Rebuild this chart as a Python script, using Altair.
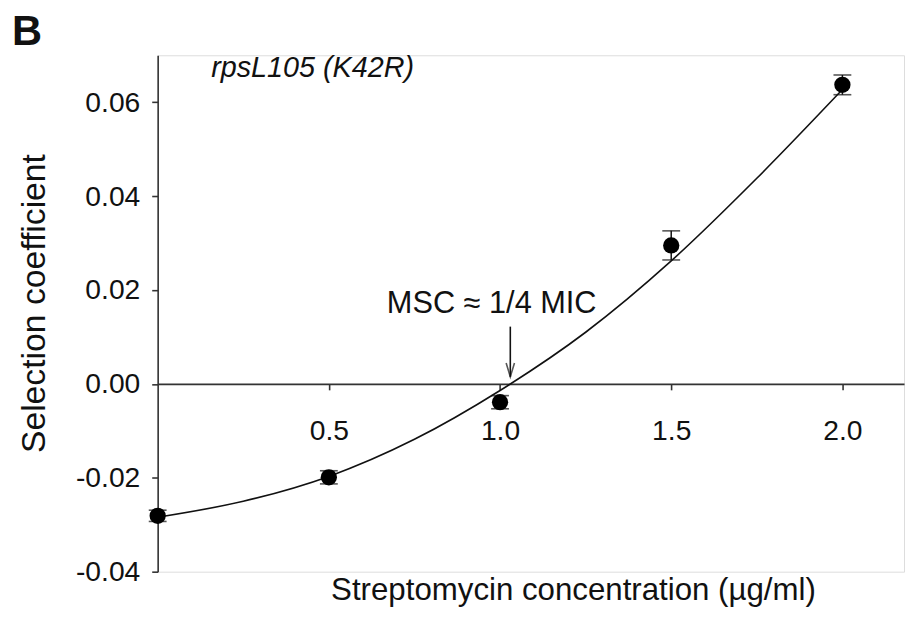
import altair as alt
import pandas as pd

# measured data
conc = [0.0, 0.5, 1.0, 1.5, 2.0]
sel = [-0.0281, -0.0199, -0.0039, 0.0295, 0.0637]
err = [0.0012, 0.0014, 0.0014, 0.0031, 0.0021]

# fitted curve
fit_x = [0.0, 0.25, 0.5, 0.75, 1.0, 1.25, 1.5, 1.75, 2.0]
fit_y = [-0.0284, -0.0250, -0.0197, -0.0118, -0.0014, 0.0110, 0.0262, 0.0438, 0.0627]

x_ticks = [0.5, 1.0, 1.5, 2.0]
y_ticks = [-0.04, -0.02, 0.0, 0.02, 0.04, 0.06]

msc_x = [1.03]
arrow_top = [0.0122]
arrow_tip = [0.0015]

FONT = "Liberation Sans"
INK = "#111111"

pts = pd.DataFrame({"x": conc, "y": sel, "e": err})
pts["lo"] = pts["y"] - pts["e"]
pts["hi"] = pts["y"] + pts["e"]
fit = pd.DataFrame({"x": fit_x, "y": fit_y})
arr = pd.DataFrame({"x": msc_x, "y1": arrow_top, "y2": arrow_tip})

xs = alt.Scale(domain=[0, 2.18], nice=False, zero=False)
ys = alt.Scale(domain=[-0.04, 0.07], nice=False, zero=False)

HEIGHT = 521
zero_from_top = 0.07 / 0.11 * HEIGHT

xaxis = alt.Axis(
    values=x_ticks, format=".1f", grid=False, offset=-(HEIGHT - zero_from_top),
    domainColor="#333333", domainWidth=1.6, tickColor="#333333", tickWidth=1.6, tickSize=6,
    labelFont=FONT, labelFontSize=28.5, labelColor=INK, labelPadding=27,
    title="Streptomycin concentration (µg/ml)", titleFont=FONT, titleFontSize=31.5,
    titleFontWeight="normal", titleColor=INK, titleX=419, titleY=218,
    titleBaseline="alphabetic", titleAlign="center",
)
yaxis = alt.Axis(
    values=y_ticks, grid=False,
    labelExpr="replace(format(datum.value, '.2f'), '\u2212', '-')",
    domainColor="#333333", domainWidth=1.6, tickColor="#333333", tickWidth=1.6, tickSize=6,
    labelFont=FONT, labelFontSize=28.5, labelColor=INK, labelPadding=12,
    title="Selection coefficient", titleFont=FONT, titleFontSize=34,
    titleFontWeight="normal", titleColor=INK, titleX=-114, titleY=250,
    titleBaseline="alphabetic", titleAlign="center", titleAngle=-90,
)

curve = alt.Chart(fit).mark_line(color="#111111", strokeWidth=1.6, interpolate="monotone").encode(
    x=alt.X("x:Q", scale=xs, axis=xaxis),
    y=alt.Y("y:Q", scale=ys, axis=yaxis),
)

bars = alt.Chart(pts).mark_rule(color="#111111", strokeWidth=1.5).encode(
    x=alt.X("x:Q", scale=xs), y=alt.Y("lo:Q", scale=ys), y2="hi:Q"
)
cap_lo = alt.Chart(pts).mark_point(shape="stroke", size=324, color="#111111", strokeWidth=1.6).encode(
    x=alt.X("x:Q", scale=xs), y=alt.Y("lo:Q", scale=ys)
)
cap_hi = alt.Chart(pts).mark_point(shape="stroke", size=324, color="#111111", strokeWidth=1.6).encode(
    x=alt.X("x:Q", scale=xs), y=alt.Y("hi:Q", scale=ys)
)
dots = alt.Chart(pts).mark_circle(size=270, color="#000000", opacity=1).encode(
    x=alt.X("x:Q", scale=xs), y=alt.Y("y:Q", scale=ys)
)

arrow_shaft = alt.Chart(arr).mark_rule(color="#111111", strokeWidth=1.6).encode(
    x=alt.X("x:Q", scale=xs), y=alt.Y("y1:Q", scale=ys), y2="y2:Q"
)
arrow_head = alt.Chart(arr).mark_point(
    shape="M-0.3,-1L0,0L0.3,-1", size=784, filled=False, color="#111111", strokeWidth=1.6
).encode(x=alt.X("x:Q", scale=xs), y=alt.Y("y2:Q", scale=ys))

label_b = alt.Chart(pd.DataFrame({"t": ["B"]})).mark_text(
    font=FONT, fontSize=42, fontWeight="bold", color=INK, align="left", baseline="alphabetic"
).encode(text="t:N", x=alt.value(-147), y=alt.value(-10))

label_gene = alt.Chart(pd.DataFrame({"t": ["rpsL105 (K42R)"]})).mark_text(
    font=FONT, fontSize=29, fontStyle="italic", color=INK, align="left", baseline="alphabetic"
).encode(text="t:N", x=alt.value(54), y=alt.value(22))

label_msc = alt.Chart(pd.DataFrame({"t": ["MSC \u2248 1/4 MIC"]})).mark_text(
    font=FONT, fontSize=31, color=INK, align="center", baseline="alphabetic"
).encode(text="t:N", x=alt.value(337), y=alt.value(260))

chart = alt.layer(
    curve, bars, cap_lo, cap_hi, dots, arrow_shaft, arrow_head, label_b, label_gene, label_msc
).properties(
    width=753, height=HEIGHT,
    padding={"left": 151, "top": 45, "right": 3, "bottom": 40},
    autosize=alt.AutoSizeParams(type="none"),
).configure_view(stroke=None).configure(background="white")

chart.save("out.html", embed_options={"renderer": "svg", "actions": False})
